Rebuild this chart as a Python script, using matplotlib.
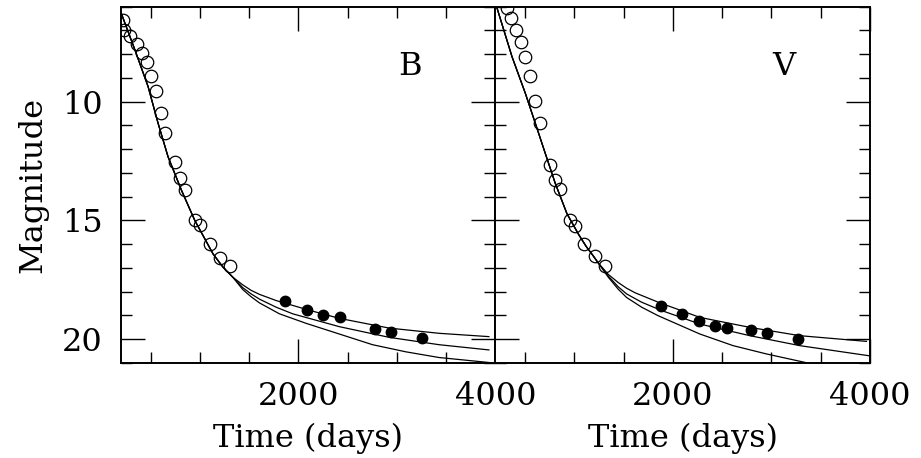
#!/usr/bin/env python3
"""B and V light curves: early photometry (open), late photometry (filled)
and three model decline curves per band."""
import matplotlib
matplotlib.use("Agg")
import matplotlib.pyplot as plt  # noqa: E402
from matplotlib.ticker import MultipleLocator  # noqa: E402

# ---- B band -------------------------------------------------------------
B_EARLY_T = [222, 232, 290, 358, 408, 459, 502, 550, 603, 644, 745, 796,
             846, 948, 998, 1099, 1200, 1302]
B_EARLY_M = [6.56, 6.97, 7.22, 7.57, 7.95, 8.33, 8.91, 9.54, 10.46, 11.31,
             12.56, 13.21, 13.73, 15.0, 15.21, 16.01, 16.59, 16.93]
B_LATE_T = [1868, 2088, 2253, 2418, 2779, 2941, 3258]
B_LATE_M = [18.41, 18.79, 18.99, 19.09, 19.59, 19.72, 19.96]

# model curves: common early branch, then three separate tails
B_SHARED_T = [199, 340, 475, 576, 677, 813, 948, 1133, 1234, 1335]
B_SHARED_M = [6.24, 7.81, 9.37, 10.91, 12.32, 13.73, 15.0, 16.41, 16.97,
              17.40]
B_TOP_T = [1436, 1520, 1605, 1774, 2111, 2415, 2921, 3427, 3933]
B_TOP_M = [17.72, 17.95, 18.12, 18.38, 18.79, 19.13, 19.54, 19.76, 19.90]
B_MID_T = [1436, 1520, 1605, 1774, 1943, 2415, 2921, 3427, 3933]
B_MID_M = [17.84, 18.10, 18.32, 18.66, 18.94, 19.48, 19.93, 20.24, 20.46]
B_LOW_T = [1436, 1520, 1605, 1808, 2078, 2415, 2752, 3090, 3427, 3933]
B_LOW_M = [17.92, 18.22, 18.48, 18.94, 19.34, 19.79, 20.24, 20.54, 20.78,
           20.99]

# ---- V band -------------------------------------------------------------
V_EARLY_T = [317, 360, 408, 462, 502, 553, 598, 654, 756, 807, 857, 953,
             1009, 1095, 1206, 1307]
V_EARLY_M = [6.05, 6.47, 7.0, 7.49, 8.10, 8.90, 9.97, 10.91, 12.65, 13.31,
             13.66, 15.0, 15.24, 16.01, 16.52, 16.93]
V_LATE_T = [1875, 2094, 2261, 2426, 2551, 2788, 2950, 3271]
V_LATE_M = [18.62, 18.96, 19.23, 19.44, 19.54, 19.62, 19.76, 20.0]

V_SHARED_T = [215, 367, 502, 604, 705, 807, 925, 1044, 1120, 1192, 1243]
V_SHARED_M = [6.05, 8.10, 9.64, 10.91, 12.18, 13.45, 14.72, 15.60, 16.10,
              16.50, 16.80]
V_TOP_T = [1345, 1445, 1530, 1615, 1851, 2274, 2781, 3288, 3964]
V_TOP_M = [17.28, 17.62, 17.86, 18.05, 18.45, 19.09, 19.51, 19.86, 20.10]
V_MID_T = [1345, 1445, 1530, 1683, 1885, 2274, 2781, 3288, 3997]
V_MID_M = [17.35, 17.80, 18.10, 18.45, 18.80, 19.37, 19.86, 20.28, 20.71]
V_LOW_T = [1345, 1445, 1530, 1683, 1851, 2274, 2611, 2950, 3389]
V_LOW_M = [17.40, 17.90, 18.25, 18.66, 19.02, 19.79, 20.28, 20.63, 21.03]

FONT = "DejaVu Serif"
FS = 23

plt.rcParams.update({
    "font.family": FONT,
    "font.size": FS,
})


def _panel(ax, early, late, shared, curves, band):
    for ct, cm in curves:
        ax.plot(shared[0] + ct, shared[1] + cm, color="black", lw=0.9,
                zorder=2)
    ax.plot(early[0], early[1], "o", mfc="none", mec="black", mew=0.9,
            ms=9, zorder=3)
    ax.plot(late[0], late[1], "o", mfc="black", mec="black", ms=7.5,
            zorder=3)
    ax.text(3130, 8.5, band, ha="center", va="center", fontsize=FS)

    ax.set_xlim(200, 4000)
    ax.set_ylim(21, 6)
    ax.xaxis.set_major_locator(MultipleLocator(2000))
    ax.xaxis.set_minor_locator(MultipleLocator(500))
    ax.yaxis.set_major_locator(MultipleLocator(5))
    ax.yaxis.set_minor_locator(MultipleLocator(1))
    ax.tick_params(which="both", direction="in", top=True, right=True,
                   width=1.0, labelsize=FS, pad=13)
    ax.tick_params(which="major", length=17)
    ax.tick_params(which="minor", length=8)
    for sp in ax.spines.values():
        sp.set_linewidth(1.4)
    ax.set_xlabel("Time (days)", fontsize=FS, labelpad=8)


fig, (ax_b, ax_v) = plt.subplots(1, 2, figsize=(9.21, 4.58), dpi=100,
                                 sharey=True)
fig.subplots_adjust(left=0.1314, right=0.9446, top=0.9854, bottom=0.208,
                    wspace=0)

_panel(ax_b, (B_EARLY_T, B_EARLY_M), (B_LATE_T, B_LATE_M),
       (B_SHARED_T, B_SHARED_M),
       [(B_TOP_T, B_TOP_M), (B_MID_T, B_MID_M), (B_LOW_T, B_LOW_M)], "B")
_panel(ax_v, (V_EARLY_T, V_EARLY_M), (V_LATE_T, V_LATE_M),
       (V_SHARED_T, V_SHARED_M),
       [(V_TOP_T, V_TOP_M), (V_MID_T, V_MID_M), (V_LOW_T, V_LOW_M)], "V")

ax_b.set_ylabel("Magnitude", fontsize=FS, labelpad=10)
ax_v.tick_params(labelleft=False)

fig.savefig("out.png", dpi=100)
